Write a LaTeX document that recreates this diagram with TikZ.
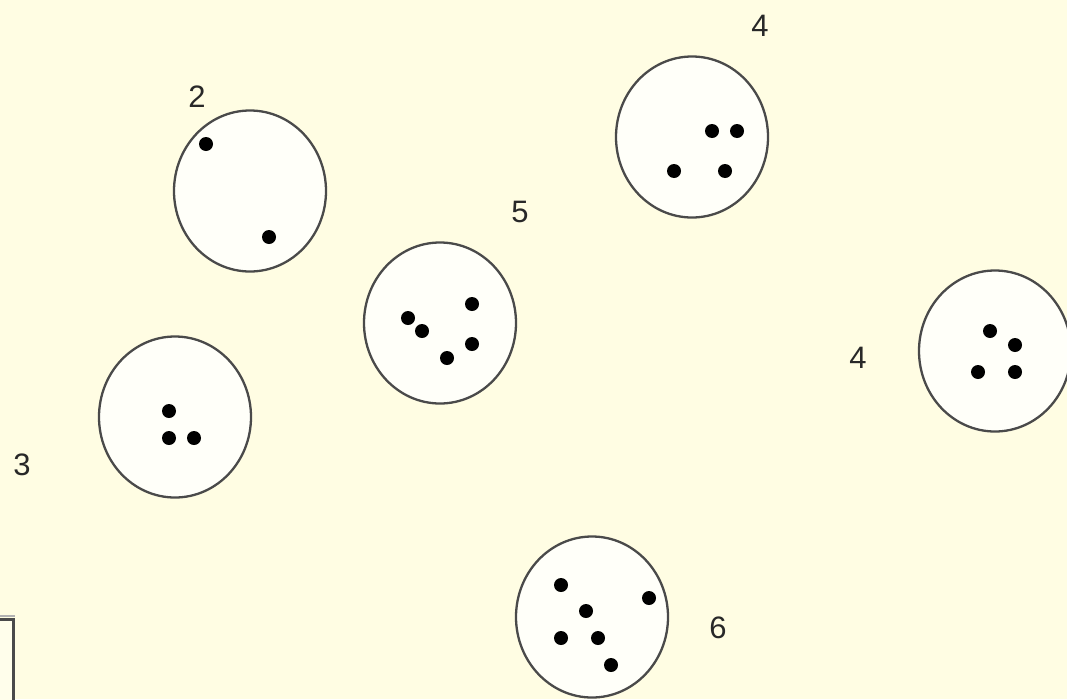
\documentclass[tikz,border=0pt]{standalone}
\usepackage{fontspec}
\setmainfont{Liberation Sans}
\usetikzlibrary{shapes.geometric}
\definecolor{bgyellow}{HTML}{FFFDE3}
\definecolor{platefill}{HTML}{FFFFF9}
\definecolor{rimgray}{HTML}{4A4A4A}
\definecolor{labgray}{HTML}{282828}
\tikzset{
  plate/.style={ellipse, draw=rimgray, line width=2.3pt, fill=platefill, minimum width=152pt, minimum height=161pt, inner sep=0pt},
  pip/.style={circle, fill=black, minimum size=14pt, inner sep=0pt},
  numlab/.style={font=\fontsize{31}{31}\selectfont, text=labgray, inner sep=0pt}
}
\begin{document}
\begin{tikzpicture}[x=1pt,y=-1pt]
\useasboundingbox (0,0) rectangle (1067,699);
\fill[bgyellow] (0,0) rectangle (1067,699);
% partial box at bottom left
\fill[bgyellow!70!white] (-10,618) rectangle (13,710);
\draw[gray!60, line width=2pt] (-10,616) -- (15,616);
\draw[rimgray, line width=3pt] (-10,619.5) -- (13,619.5) -- (13,710);

% plates
\node[plate] (p2) at (250,191) {};
\node[plate] (p5) at (440,323) {};
\node[plate] (p4a) at (692,137) {};
\node[plate] (p4b) at (995,351) {};
\node[plate] (p3) at (175,417) {};
\node[plate] (p6) at (592,617) {};

% pips plate 2
\node[pip] (a1) at (206,144) {};
\node[pip] (a2) at (269,237) {};
% pips plate 5
\node[pip] (b1) at (408,318) {};
\node[pip] (b2) at (422,331) {};
\node[pip] (b3) at (472,304) {};
\node[pip] (b4) at (472,344) {};
\node[pip] (b5) at (447,358) {};
% pips plate 4 top
\node[pip] (c1) at (712,131) {};
\node[pip] (c2) at (737,131) {};
\node[pip] (c3) at (674,171) {};
\node[pip] (c4) at (725,171) {};
% pips plate 4 right
\node[pip] (d1) at (990,331) {};
\node[pip] (d2) at (1015,345) {};
\node[pip] (d3) at (978,372) {};
\node[pip] (d4) at (1015,372) {};
% pips plate 3
\node[pip] (e1) at (169,411) {};
\node[pip] (e2) at (169,438) {};
\node[pip] (e3) at (194,438) {};
% pips plate 6
\node[pip] (f1) at (561,585) {};
\node[pip] (f2) at (649,598) {};
\node[pip] (f3) at (586,611) {};
\node[pip] (f4) at (561,638) {};
\node[pip] (f5) at (598,638) {};
\node[pip] (f6) at (611,665) {};

% labels
\node[numlab] (l2) at (197,97) {2};
\node[numlab] (l5) at (520,212) {5};
\node[numlab] (l4a) at (760,26) {4};
\node[numlab] (l4b) at (858,358) {4};
\node[numlab] (l3) at (22,465) {3};
\node[numlab] (l6) at (718,628) {6};
\end{tikzpicture}
\end{document}
